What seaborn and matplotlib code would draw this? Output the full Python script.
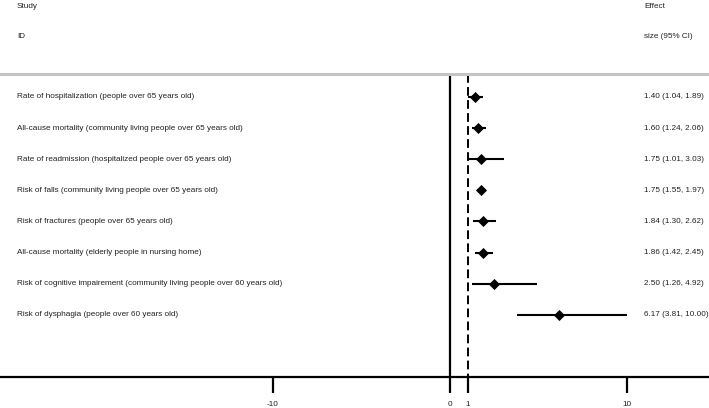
"""
Forest plot of effect sizes (95% CI) for outcomes in older people.
"""

import numpy as np
import pandas as pd
import matplotlib
matplotlib.use("Agg")
import matplotlib.pyplot as plt
import matplotlib.transforms as mtransforms
import seaborn as sns


# ── Data ──────────────────────────────────────────────────────────────────────
studies = [
    "Rate of hospitalization (people over 65 years old)",
    "All-cause mortality (community living people over 65 years old)",
    "Rate of readmission (hospitalized people over 65 years old)",
    "Risk of falls (community living people over 65 years old)",
    "Risk of fractures (people over 65 years old)",
    "All-cause mortality (elderly people in nursing home)",
    "Risk of cognitive impairement (community living people over 60 years old)",
    "Risk of dysphagia (people over 60 years old)",
]
effect = [1.40, 1.60, 1.75, 1.75, 1.84, 1.86, 2.50, 6.17]
lower  = [1.04, 1.24, 1.01, 1.55, 1.30, 1.42, 1.26, 3.81]
upper  = [1.89, 2.06, 3.03, 1.97, 2.62, 2.45, 4.92, 10.00]
x_ticks = [-10, 0, 1, 10]

df = pd.DataFrame({"study": studies, "es": effect, "lo": lower, "hi": upper})
df["row"] = np.arange(len(df))
df["label"] = [f"{e:.2f} ({l:.2f}, {h:.2f})" for e, l, h in zip(effect, lower, upper)]


# ── Figure ────────────────────────────────────────────────────────────────────
sns.set_style("white")
plt.rcParams["font.family"] = ["Liberation Sans", "DejaVu Sans"]

W, H = 709, 408
fig = plt.figure(figsize=(W / 100, H / 100), dpi=100)
axis_px = 377                      # pixel row of the x axis line
ax = fig.add_axes([0, (H - axis_px) / H, 1, axis_px / H])

# pixel -> data mapping: rows start at 97 px, spaced 31.1 px; 0 at 450 px, 17.7 px/unit
row0, row_step = 97, 31.1
x0, x_step = 450, 17.7
ax.set_xlim(-x0 / x_step, (W - x0) / x_step)
ax.set_ylim((axis_px - row0) / row_step, -row0 / row_step)
header_y = (74 - row0) / row_step

# reference lines
ax.vlines(0, header_y, ax.get_ylim()[0], color="black", lw=1.6)
ax.vlines(1, header_y, ax.get_ylim()[0], color="black", lw=1.4,
          linestyles=(0, (4.5, 2.2)))
ax.axhline(header_y, color="#c4c4c4", lw=2.2)

# confidence intervals + point estimates
ax.hlines(df["row"], df["lo"], df["hi"], color="black", lw=1.5)
sns.scatterplot(data=df, x="es", y="row", marker="D", s=32, color="black",
                edgecolor="black", linewidth=0, ax=ax, zorder=3, legend=False)

# text columns
trans = mtransforms.blended_transform_factory(ax.transAxes, ax.transData)
txt = dict(fontsize=5.85, color="#222222", va="center", transform=trans)
for _, r in df.iterrows():
    ax.text(17 / W, r["row"], r["study"], ha="left", **txt)
    ax.text(644 / W, r["row"], r["label"], ha="left", **txt)
ax.text(17 / W, (7 - row0) / row_step, "Study", ha="left", **txt)
ax.text(17 / W, (37 - row0) / row_step, "ID", ha="left", **txt)
ax.text(644 / W, (7 - row0) / row_step, "Effect", ha="left", **txt)
ax.text(644 / W, (37 - row0) / row_step, "size (95% CI)", ha="left", **txt)

# x axis
for side in ["top", "left", "right"]:
    ax.spines[side].set_visible(False)
ax.spines["bottom"].set_linewidth(1.6)
ax.spines["bottom"].set_color("black")
ax.set_yticks([])
ax.set_xticks(x_ticks)
ax.set_xticklabels([str(t) for t in x_ticks])
ax.tick_params(axis="x", direction="out", length=11.5, width=1.6, pad=5.5,
               labelsize=5.85, colors="black", bottom=True)
for lbl in ax.get_xticklabels():
    lbl.set_color("#222222")
ax.set_xlabel("")
ax.set_ylabel("")

fig.savefig("out.png", dpi=100)
plt.close(fig)
